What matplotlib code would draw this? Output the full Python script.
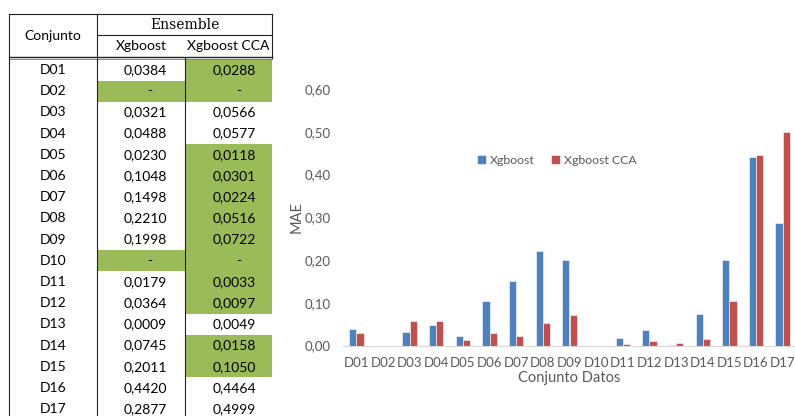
import numpy as np
import matplotlib
matplotlib.use("Agg")
import matplotlib.pyplot as plt
from matplotlib.patches import Rectangle

# ========== datos ==========
conjuntos = [f"D{i:02d}" for i in range(1, 18)]
mae_xgb = [0.0384, None, 0.0321, 0.0488, 0.0230, 0.1048, 0.1498, 0.2210, 0.1998,
           None, 0.0179, 0.0364, 0.0009, 0.0745, 0.2011, 0.4420, 0.2877]
mae_cca = [0.0288, None, 0.0566, 0.0577, 0.0118, 0.0301, 0.0224, 0.0516, 0.0722,
           None, 0.0033, 0.0097, 0.0049, 0.0158, 0.1050, 0.4464, 0.4999]
series = ["Xgboost", "Xgboost CCA"]
yticks = [0.0, 0.1, 0.2, 0.3, 0.4, 0.5, 0.6]

BLUE = "#4F81BD"
RED = "#C0504D"
GREEN = "#9BBB59"
GRAY = "#595959"
W, H = 795, 416

plt.rcParams["font.family"] = ["Lato", "DejaVu Sans"]

fig = plt.figure(figsize=(W / 100, H / 100), dpi=100)

# ========== tabla (coordenadas en pixeles) ==========
tab = fig.add_axes([0, 0, 1, 1])
tab.set_xlim(0, W)
tab.set_ylim(H, 0)
tab.axis("off")

x_left, x_c1, x_c2, x_right = 9, 97, 185, 272
y_top, y_mid, y_head = 14, 35, 57.5
row_h = 21.2
row0 = 59.4
fs_tab = 10


def fmt(v):
    return f"{v:.4f}".replace(".", ",")


for i, (name, a, b) in enumerate(zip(conjuntos, mae_xgb, mae_cca)):
    top = row0 + i * row_h
    yc = top + row_h / 2
    missing = a is None or b is None
    # celdas resaltadas: faltantes o CCA mejora a Xgboost
    if missing:
        tab.add_patch(Rectangle((x_c1, top), x_right - x_c1, row_h, color=GREEN, lw=0, zorder=1))
    elif b < a:
        tab.add_patch(Rectangle((x_c2, top), x_right - x_c2, row_h, color=GREEN, lw=0, zorder=1))
    tab.text((x_left + x_c1) / 2, yc, name, ha="center", va="center", fontsize=fs_tab, zorder=3)
    for v, xr in ((a, 167), (b, 256)):
        if v is None:
            tab.text(xr - 17, yc, "-", ha="center", va="center", fontsize=fs_tab, zorder=3)
        else:
            tab.text(xr, yc, fmt(v), ha="right", va="center", fontsize=fs_tab, zorder=3)

lc = "#222222"
tab.plot([x_left, x_right], [y_top, y_top], color=lc, lw=0.8, zorder=4)
tab.plot([x_c1, x_right], [y_mid, y_mid], color=lc, lw=0.8, zorder=4)
tab.plot([x_left, x_right], [y_head - 0.8, y_head - 0.8], color=lc, lw=1.0, zorder=4)
tab.plot([x_left, x_right], [y_head + 1.4, y_head + 1.4], color="#777777", lw=0.6, zorder=4)
tab.plot([x_left, x_left], [y_top, H], color=lc, lw=0.8, zorder=4)
tab.plot([x_c1, x_c1], [y_top, H], color=lc, lw=0.8, zorder=4)
tab.plot([x_c2, x_c2], [y_head, H], color=lc, lw=0.8, zorder=4)
tab.plot([x_right, x_right], [y_top, y_head], color=lc, lw=0.8, zorder=4)

tab.text((x_left + x_c1) / 2, 36, "Conjunto", ha="center", va="center", fontsize=fs_tab)
tab.text((x_c1 + x_right) / 2, 25, "Ensemble", ha="center", va="center", fontsize=fs_tab,
         family=["DejaVu Serif"])
tab.text((x_c1 + x_c2) / 2, 46.5, series[0], ha="center", va="center", fontsize=fs_tab)
tab.text((x_c2 + x_right) / 2, 46.5, series[1], ha="center", va="center", fontsize=fs_tab)

# ========== grafico de barras ==========
ax_l, ax_r, ax_b, ax_t = 343, 796, 345.5, 89
ax = fig.add_axes([ax_l / W, (H - ax_b) / H, (ax_r - ax_l) / W, (ax_b - ax_t) / H])

x = np.arange(len(conjuntos))
bw = 0.27
xgb_vals = np.array([np.nan if v is None else v for v in mae_xgb])
cca_vals = np.array([np.nan if v is None else v for v in mae_cca])
ax.bar(x - bw / 2, xgb_vals, bw, color=BLUE, edgecolor="white", linewidth=0.4, label=series[0])
ax.bar(x + bw / 2, cca_vals, bw, color=RED, edgecolor="white", linewidth=0.4, label=series[1])

ax.set_xlim(-0.5, len(conjuntos) - 0.5)
ax.set_ylim(0, 0.6)
ax.set_yticks(yticks)
ax.set_yticklabels([f"{t:.2f}".replace(".", ",") for t in yticks])
ax.set_xticks(x)
ax.set_xticklabels(conjuntos)
ax.tick_params(axis="y", length=0, pad=9, labelsize=9.5, colors=GRAY)
ax.tick_params(axis="x", length=0, pad=8, labelsize=9.5, colors=GRAY)
for s in ("top", "right", "left"):
    ax.spines[s].set_visible(False)
ax.spines["bottom"].set_color("#D9D9D9")
ax.patch.set_alpha(0)

ax.set_ylabel("MAE", fontsize=10.5, color=GRAY)
ax.yaxis.set_label_coords(-0.088, 0.5)
ax.set_xlabel("Conjunto Datos", fontsize=10.5, color=GRAY)
ax.xaxis.set_label_coords(0.5, -0.1)

leg = ax.legend(ncol=2, loc="center", bbox_to_anchor=(0.472, 0.723), frameon=False,
                handlelength=0.7, handleheight=0.7, handletextpad=0.3, columnspacing=1.4,
                fontsize=8.8)
for t in leg.get_texts():
    t.set_color(GRAY)

fig.savefig("out.png", dpi=100)
